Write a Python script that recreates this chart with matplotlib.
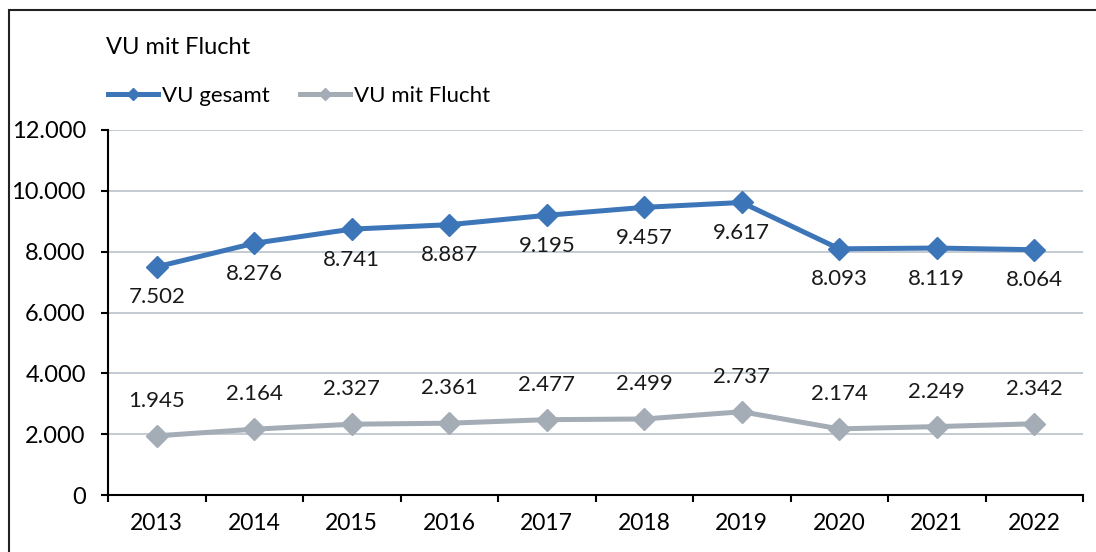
import matplotlib.pyplot as plt
from matplotlib.patches import Rectangle
from matplotlib.lines import Line2D

years = ["2013", "2014", "2015", "2016", "2017", "2018", "2019", "2020", "2021", "2022"]
vu_gesamt = [7502, 8276, 8741, 8887, 9195, 9457, 9617, 8093, 8119, 8064]
vu_flucht = [1945, 2164, 2327, 2361, 2477, 2499, 2737, 2174, 2249, 2342]
y_ticks = [0, 2000, 4000, 6000, 8000, 10000, 12000]

BLUE = "#3D76B8"
GREY = "#A4ACB6"
FS = 16

plt.rcParams["font.family"] = ["Lato", "DejaVu Sans"]


def fmt(v):
    return f"{v:,}".replace(",", ".")


fig = plt.figure(figsize=(10.96, 5.52), dpi=100)
ax = fig.add_axes([108 / 1096, 57 / 552, 975 / 1096, 365 / 552])

x = list(range(len(years)))
ax.plot(x, vu_gesamt, color=BLUE, lw=3.6, marker="D", ms=11, zorder=3)
ax.plot(x, vu_flucht, color=GREY, lw=3.6, marker="D", ms=11, zorder=3)

for i, v in enumerate(vu_gesamt):
    ax.annotate(fmt(v), (i, v), xytext=(0, -22), textcoords="offset points",
                ha="center", va="center", fontsize=FS, color="#1a1a1a")
for i, v in enumerate(vu_flucht):
    ax.annotate(fmt(v), (i, v), xytext=(0, 25), textcoords="offset points",
                ha="center", va="center", fontsize=FS, color="#1a1a1a")

ax.set_xlim(-0.5, len(years) - 0.5)
ax.set_ylim(0, 12000)
ax.set_yticks(y_ticks)
ax.set_yticklabels([fmt(t) for t in y_ticks], fontsize=17)
ax.set_xticks(x)
ax.set_xticklabels(years, fontsize=16.5)
ax.set_xticks([i - 0.5 for i in range(len(years) + 1)], minor=True)
ax.tick_params(axis="x", which="major", length=0, pad=13)
ax.tick_params(axis="x", which="minor", length=5, width=1.5, direction="out")
ax.tick_params(axis="y", length=5, width=1.5, direction="out", pad=11)

ax.grid(axis="y", color="#BAC1CB", lw=1.2)
ax.set_axisbelow(True)
for s in ["top", "right"]:
    ax.spines[s].set_visible(False)
ax.spines["left"].set_linewidth(1.5)
ax.spines["bottom"].set_linewidth(1.5)

fig.text(106 / 1096, 1 - 48 / 552, "VU mit Flucht", fontsize=17, va="center", ha="left")

handles = [
    Line2D([], [], color=BLUE, lw=3.6, marker="D", ms=6),
    Line2D([], [], color=GREY, lw=3.6, marker="D", ms=6),
]
fig.legend(handles, ["VU gesamt", "VU mit Flucht"], loc="center left",
           bbox_to_anchor=(108 / 1096, 1 - 96 / 552), ncol=2, frameon=False,
           fontsize=FS, handlelength=2.25, handletextpad=0.18, columnspacing=1.35,
           borderpad=0, borderaxespad=0)

fig.patches.append(Rectangle((9 / 1096, -0.1), 1.2, 1 - 10 / 552 + 0.1,
                             transform=fig.transFigure, fill=False,
                             edgecolor="#222222", lw=1.5))

fig.savefig("out.png", dpi=100)
